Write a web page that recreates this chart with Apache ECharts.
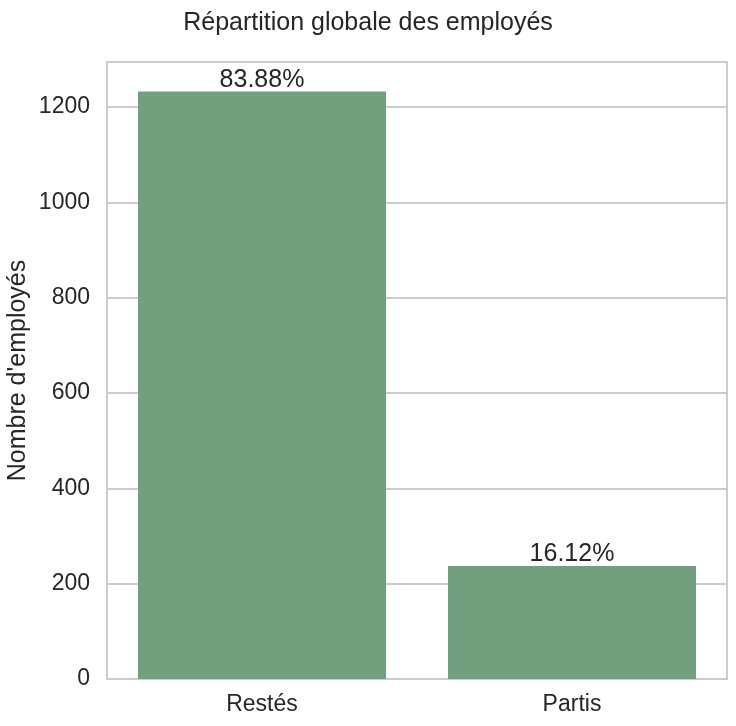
<!DOCTYPE html>
<html>
<head>
<meta charset="utf-8">
<script src="https://cdn.jsdelivr.net/npm/echarts@6/dist/echarts.min.js"></script>
<style>
html,body{margin:0;padding:0;background:#fff;}
#c{width:736px;height:726px;}
</style>
</head>
<body>
<div id="c"></div>
<script>
var categories = ['Restés', 'Partis'];
var counts = [1233, 237];
var yTicks = [0, 200, 400, 600, 800, 1000, 1200];

var total = counts.reduce(function (a, b) { return a + b; }, 0);
var yMax = Math.max.apply(null, counts) * 1.05;
var FONT = 'Liberation Sans, Arial, sans-serif';
var TXT = '#262626';

var chart = echarts.init(document.getElementById('c'));
chart.setOption({
  backgroundColor: '#ffffff',
  animation: false,
  title: {
    text: 'Répartition globale des employés',
    left: 'center',
    top: 6,
    textStyle: { fontFamily: FONT, fontSize: 25, fontWeight: 'normal', color: TXT }
  },
  grid: {
    left: 107, right: 9, top: 62, bottom: 47,
    outerBoundsMode: 'none',
    containLabel: false,
    show: true, borderColor: '#cccccc', borderWidth: 2, backgroundColor: '#ffffff'
  },
  xAxis: {
    type: 'category',
    data: categories,
    axisLine: { show: false },
    axisTick: { show: false },
    axisLabel: { fontFamily: FONT, fontSize: 23, color: TXT, margin: 14 }
  },
  yAxis: {
    type: 'value',
    min: 0,
    max: yMax,
    interval: 200,
    name: "Nombre d'employés",
    nameLocation: 'middle',
    nameMoveOverlap: false,
    nameGap: 76,
    nameTextStyle: { fontFamily: FONT, fontSize: 25, color: TXT },
    axisLine: { show: false },
    axisTick: { show: false },
    axisLabel: {
      fontFamily: FONT, fontSize: 23, color: TXT, margin: 17,
      formatter: function (v) { return yTicks.indexOf(v) >= 0 ? String(v) : ''; }
    },
    splitLine: { show: true, lineStyle: { color: '#cccccc', width: 2 } }
  },
  series: [{
    type: 'bar',
    data: counts,
    barCategoryGap: '20%',
    itemStyle: { color: '#72a07e' },
    label: {
      show: true,
      position: 'top',
      distance: -1,
      fontFamily: FONT, fontSize: 25, color: TXT,
      formatter: function (p) { return (p.value / total * 100).toFixed(2) + '%'; }
    }
  }]
});
</script>
</body>
</html>
